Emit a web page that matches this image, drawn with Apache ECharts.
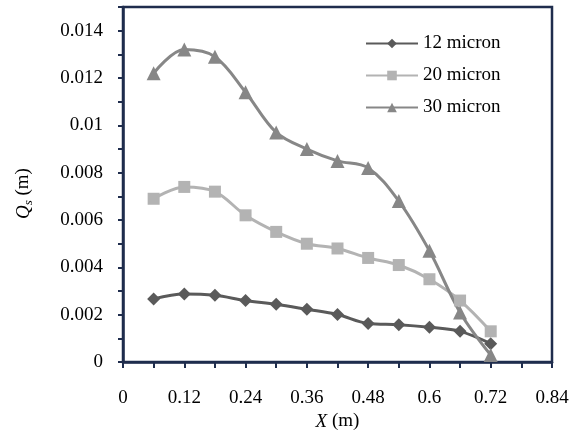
<!DOCTYPE html>
<html>
<head>
<meta charset="utf-8">
<script src="https://cdn.jsdelivr.net/npm/echarts@6/dist/echarts.min.js"></script>
<style>
html,body{margin:0;padding:0;background:#fff;}
#chart{width:576px;height:436px;}
</style>
</head>
<body>
<div id="chart"></div>
<script>
var xValues = [0.06, 0.12, 0.18, 0.24, 0.30, 0.36, 0.42, 0.48, 0.54, 0.60, 0.66, 0.72];
var micron12 = [0.00267, 0.00288, 0.00282, 0.00260, 0.00244, 0.00223, 0.00201, 0.00163, 0.00158, 0.00147, 0.00130, 0.00078];
var micron20 = [0.0069, 0.0074, 0.0072, 0.0062, 0.0055, 0.0050, 0.0048, 0.0044, 0.0041, 0.0035, 0.0026, 0.0013];
var micron30 = [0.0122, 0.0132, 0.0129, 0.0114, 0.0097, 0.0090, 0.0085, 0.0082, 0.0068, 0.0047, 0.0021, 0.0003];
var seriesNames = ['12 micron', '20 micron', '30 micron'];

var navy = '#1f2d4d';
var font = 'Liberation Serif';
var fs = 19;

function pairs(ys) { return xValues.map(function (x, i) { return [x, ys[i]]; }); }

var chart = echarts.init(document.getElementById('chart'), null, {renderer: 'canvas'});
chart.setOption({
  animation: false,
  backgroundColor: '#fff',
  grid: {left: 123, right: 24, top: 7, bottom: 71, show: true, borderColor: navy, borderWidth: 2.5, backgroundColor: 'transparent'},
  legend: {
    orient: 'vertical', left: 360, top: 29, itemWidth: 52, itemHeight: 12, itemGap: 13,
    textStyle: {fontFamily: font, fontSize: fs, color: '#000'},
    data: seriesNames
  },
  xAxis: {
    type: 'value', min: 0, max: 0.84, interval: 0.06,
    axisLine: {show: true, lineStyle: {color: navy, width: 2.5}},
    axisTick: {show: true, length: 6, lineStyle: {color: navy, width: 2}},
    splitLine: {show: false},
    axisLabel: {
      margin: 26, fontFamily: font, fontSize: fs, color: '#000',
      formatter: function (v) {
        var k = Math.round(v * 100);
        if (k % 12 !== 0) return '';
        return String(Math.round(v * 100) / 100);
      }
    },
    name: '{i|X} (m)', nameLocation: 'middle', nameGap: 47,
    nameTextStyle: {fontFamily: font, fontSize: fs, color: '#000', rich: {i: {fontFamily: font, fontSize: fs, fontStyle: 'italic', color: '#000'}}}
  },
  yAxis: {
    type: 'value', min: 0, max: 0.015, interval: 0.001,
    axisLine: {show: true, lineStyle: {color: navy, width: 2.5}},
    axisTick: {show: true, length: 5, lineStyle: {color: navy, width: 2}},
    splitLine: {show: false},
    axisLabel: {
      margin: 20, fontFamily: font, fontSize: fs, color: '#000',
      formatter: function (v) {
        var k = Math.round(v * 1000);
        if (k % 2 !== 0) return '';
        return String(k / 1000);
      }
    },
    name: '{q|Q}{s|s} (m)', nameLocation: 'middle', nameGap: 88, nameRotate: 90,
    nameTextStyle: {fontFamily: font, fontSize: fs, color: '#000', padding: [0, 18, 0, 0],
      rich: {
        q: {fontFamily: font, fontSize: fs, fontStyle: 'italic', color: '#000', lineHeight: 22, verticalAlign: 'middle'},
        s: {fontFamily: font, fontSize: 13, fontStyle: 'italic', color: '#000', padding: [10, 0, 0, 0]}
      }
    }
  },
  series: [
    {name: seriesNames[0], type: 'line', data: pairs(micron12), smooth: 0.35, symbol: 'diamond', symbolSize: 13,
      itemStyle: {color: '#5a5a5a'}, lineStyle: {color: '#5a5a5a', width: 3}},
    {name: seriesNames[1], type: 'line', data: pairs(micron20), smooth: 0.35, symbol: 'rect', symbolSize: 12,
      itemStyle: {color: '#b3b3b3'}, lineStyle: {color: '#b3b3b3', width: 3}},
    {name: seriesNames[2], type: 'line', data: pairs(micron30), smooth: 0.35, symbol: 'triangle', symbolSize: 14,
      itemStyle: {color: '#878787'}, lineStyle: {color: '#878787', width: 3}}
  ]
});
</script>
</body>
</html>
